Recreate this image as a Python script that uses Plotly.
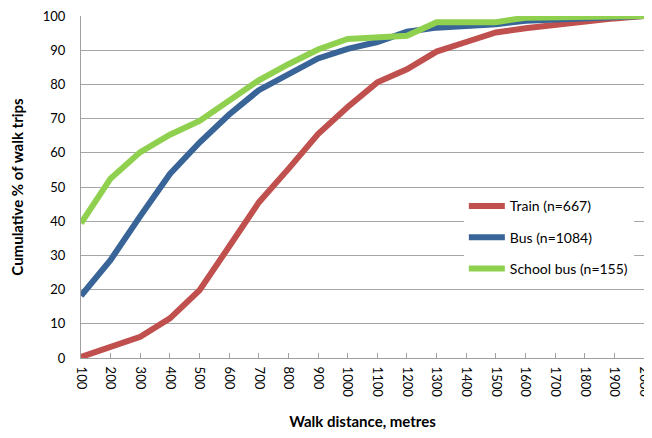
import plotly.graph_objects as go

distances = ["100", "200", "300", "400", "500", "600", "700", "800", "900", "1000",
             "1100", "1200", "1300", "1400", "1500", "1600", "1700", "1800", "1900", "2000"]
train = [0.3, 3.3, 6.2, 11.6, 19.8, 32.6, 45.5, 55.3, 65.5, 73.4,
         80.6, 84.4, 89.6, 92.4, 95.2, 96.4, 97.5, 98.5, 99.3, 100]
bus = [18.2, 28.7, 41.5, 53.8, 63.0, 71.2, 78.3, 83.2, 87.6, 90.4,
       92.4, 95.4, 96.6, 97.1, 97.6, 98.6, 99.0, 99.3, 99.6, 100]
school_bus = [39.4, 52.5, 60.2, 65.3, 69.3, 75.0, 81.2, 85.9, 90.2, 93.3,
              93.9, 94.2, 98.2, 98.2, 98.2, 99.5, 99.6, 99.7, 99.8, 100]

series = [
    ("Train (n=667)", train, "#C0504D"),
    ("Bus (n=1084)", bus, "#386497"),
    ("School bus (n=155)", school_bus, "#8FD14F"),
]

font_family = "Lato, 'Open Sans', sans-serif"

fig = go.Figure()
for name, vals, color in series:
    fig.add_trace(go.Scatter(x=distances, y=vals, name=name, mode="lines",
                             legendgroup=name,
                             line=dict(color=color, width=6)))

fig.update_layout(
    width=652, height=422,
    margin=dict(l=73, r=16, t=8, b=72),
    paper_bgcolor="white", plot_bgcolor="white",
    font=dict(family=font_family, size=13, color="#000000"),
    showlegend=True,
    legend=dict(x=0.68, y=0.49, xanchor="left", yanchor="top",
                bgcolor="white", borderwidth=0, traceorder="grouped",
                font=dict(size=14), tracegroupgap=10, itemwidth=36),
)
fig.update_xaxes(
    type="category", range=[0, 19], automargin=False,
    tickangle=90, tickfont=dict(size=13), ticklabeloverflow="allow",
    showline=True, linecolor="#A0A0A0", linewidth=1,
    ticks="inside", ticklen=5, tickcolor="#A0A0A0",
    ticklabelstandoff=5,
    showgrid=False,
    title=dict(text="<b>Walk distance, metres</b>", font=dict(size=15), standoff=26),
)
fig.update_yaxes(
    range=[0, 100], dtick=10,
    tickfont=dict(size=13), automargin=False, ticklabeloverflow="allow",
    showline=True, linecolor="#A0A0A0", linewidth=1,
    ticks="", ticklabelstandoff=12,
    showgrid=True, gridcolor="#A6A6A6", gridwidth=1,
    zeroline=False,
    title=dict(text="<b>Cumulative % of walk trips</b>", font=dict(size=15), standoff=20),
)

fig.write_html("out.html")
